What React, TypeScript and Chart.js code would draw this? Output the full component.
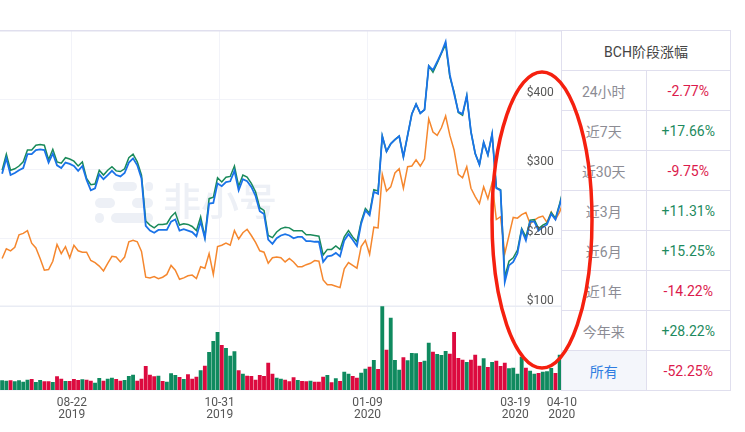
import { useEffect, useRef } from 'react';
import { Chart, registerables } from 'chart.js';
import type { Plugin } from 'chart.js';

Chart.register(...registerables);

const firstDate = '2019-07-20';
const stepDays = 2;
const tickDates = ['2019-08-22', '2019-10-31', '2020-01-09', '2020-03-19', '2020-04-10'];
const priceTicks = [100, 200, 300, 400];

const bchPrice = [
  294, 316, 292, 295, 299, 302, 322, 322, 328, 329, 328, 310, 323, 306, 302, 310, 308, 305, 298, 305,
  285, 270, 273, 293, 286, 292, 298, 292, 290, 295, 310, 316, 306, 287, 219, 212, 209, 213, 213, 213,
  225, 228, 212, 214, 212, 210, 204, 225, 201, 251, 252, 280, 276, 282, 283, 298, 270, 286, 283, 275,
  262, 240, 236, 199, 193, 201, 205, 207, 205, 201, 203, 203, 197, 197, 196, 196, 167, 175, 176, 180,
  175, 198, 207, 199, 190, 222, 241, 234, 268, 265, 348, 326, 337, 343, 348, 318, 349, 380, 394, 381,
  386, 449, 443, 455, 468, 484, 436, 409, 383, 380, 406, 354, 323, 307, 339, 321, 351, 273, 270, 138,
  162, 167, 179, 213, 198, 225, 225, 212, 217, 221, 236, 228, 248, 273,
];
const bchAverage = [
  299, 322, 299, 301, 305, 311, 328, 328, 335, 336, 335, 314, 329, 311, 309, 317, 315, 312, 305, 311,
  287, 278, 279, 299, 292, 299, 304, 298, 297, 301, 317, 322, 311, 292, 226, 220, 216, 221, 221, 222,
  232, 238, 220, 222, 221, 218, 212, 232, 203, 258, 260, 288, 282, 289, 290, 305, 276, 292, 289, 280,
  268, 245, 241, 205, 202, 210, 215, 217, 216, 212, 212, 212, 206, 206, 205, 204, 177, 185, 185, 190,
  185, 203, 212, 203, 196, 225, 244, 237, 271, 269, 348, 326, 337, 343, 348, 318, 349, 380, 394, 381,
  386, 449, 440, 453, 467, 480, 433, 412, 382, 378, 406, 354, 323, 307, 339, 321, 351, 274, 271, 145,
  168, 173, 184, 215, 203, 227, 228, 215, 220, 223, 238, 230, 251, 275,
];
const marketIndex = [
  172, 186, 183, 188, 206, 208, 212, 194, 187, 172, 155, 156, 168, 192, 179, 189, 173, 191, 183, 181,
  181, 169, 166, 161, 154, 165, 175, 174, 167, 174, 196, 198, 196, 182, 145, 144, 146, 143, 145, 149,
  162, 155, 142, 144, 147, 148, 143, 160, 158, 179, 149, 189, 191, 194, 191, 212, 200, 209, 214, 205,
  195, 183, 181, 165, 173, 174, 173, 167, 172, 167, 160, 160, 163, 165, 169, 168, 141, 134, 134, 132,
  130, 157, 166, 162, 158, 189, 198, 178, 217, 216, 293, 269, 275, 295, 301, 273, 304, 305, 314, 305,
  315, 373, 354, 349, 360, 377, 349, 328, 293, 288, 304, 273, 261, 251, 275, 258, 281, 228, 232, 179,
  205, 231, 230, 235, 238, 222, 227, 231, 233, 224, 239, 228, 239, 256,
];
const volume = [
  28, 27, 28, 25, 28, 24, 30, 32, 23, 29, 25, 25, 23, 40, 33, 26, 26, 32, 29, 31,
  30, 27, 21, 35, 27, 33, 36, 32, 27, 29, 41, 45, 27, 33, 71, 45, 40, 42, 26, 24,
  49, 44, 38, 32, 46, 33, 39, 58, 72, 113, 146, 173, 134, 125, 102, 115, 58, 48, 42, 41,
  30, 44, 41, 81, 48, 36, 33, 30, 25, 37, 29, 26, 25, 27, 24, 24, 39, 44, 22, 34,
  26, 54, 48, 41, 36, 51, 63, 69, 89, 62, 250, 120, 216, 89, 60, 97, 88, 110, 109, 83,
  87, 141, 114, 107, 104, 116, 108, 173, 95, 90, 83, 90, 105, 72, 94, 68, 83, 87, 71, 81,
  64, 66, 48, 99, 66, 57, 48, 50, 54, 55, 65, 50, 105, 110,
];
const volumeUp = [
  1, 1, 0, 1, 1, 1, 1, 0, 1, 1, 0, 0, 1, 0, 0, 1, 0, 0, 0, 1,
  0, 0, 1, 1, 0, 1, 1, 0, 0, 1, 1, 1, 0, 0, 0, 0, 0, 1, 0, 1,
  1, 1, 0, 1, 0, 0, 0, 1, 0, 1, 1, 1, 0, 1, 1, 1, 0, 1, 0, 0,
  0, 0, 0, 0, 0, 1, 1, 0, 0, 0, 1, 0, 0, 1, 0, 0, 0, 1, 0, 1,
  0, 1, 1, 0, 0, 1, 1, 0, 1, 0, 1, 0, 1, 1, 1, 0, 1, 1, 1, 0,
  1, 1, 0, 1, 1, 1, 0, 0, 0, 0, 1, 0, 0, 0, 1, 0, 1, 0, 0, 0,
  1, 1, 1, 1, 0, 1, 1, 0, 1, 1, 1, 0, 1, 1,
];

const rangeRows = [
  { label: '24小时', value: '-2.77%' },
  { label: '近7天', value: '+17.66%' },
  { label: '近30天', value: '-9.75%' },
  { label: '近3月', value: '+11.31%' },
  { label: '近6月', value: '+15.25%' },
  { label: '近1年', value: '-14.22%' },
  { label: '今年来', value: '+28.22%' },
  { label: '所有', value: '-52.25%' },
];

const UP = '#0f8a5f';
const DOWN = '#dc0a3f';
const GRID = '#f2f3f9';
const BORDER = '#e0dfee';
const FONT = 'Roboto, "Noto Sans CJK SC", sans-serif';

const toDay = (date: string) => Date.parse(date) / 86400000;
const sampleDays = bchPrice.map((_, i) => toDay(firstDate) + i * stepDays);
const points = (values: number[]) => values.map((y, i) => ({ x: sampleDays[i], y }));

// panel frame and the faint site watermark sit behind the series
const backdrop: Plugin = {
  id: 'backdrop',
  beforeDatasetsDraw(chart) {
    const { ctx, chartArea } = chart;
    ctx.save();
    ctx.fillStyle = '#edf0f6';
    const bars = [
      [113, 182, 24, 9], [145, 182, 8, 9],
      [95, 198, 20, 10], [132, 198, 21, 10],
      [95, 213, 9, 10], [111, 213, 42, 10],
    ];
    bars.forEach(([x, y, w, h]) => {
      ctx.beginPath();
      ctx.roundRect(x, y, w, h, h / 2);
      ctx.fill();
    });
    ctx.font = '500 38px "Noto Sans CJK SC"';
    ctx.textBaseline = 'middle';
    ctx.fillText('非小号', 163, 201);
    ctx.fillStyle = BORDER;
    ctx.fillRect(chartArea.left, 30, chartArea.width, 1.5);
    ctx.fillStyle = '#e9ecf4';
    ctx.fillRect(chartArea.left, 305.5, chartArea.width, 1.5);
    ctx.fillRect(chartArea.left, 389.5, chartArea.width, 1);
    ctx.restore();
  },
};

export default function App() {
  const canvasRef = useRef<HTMLCanvasElement>(null);

  useEffect(() => {
    if (!canvasRef.current) return;
    const chart = new Chart(canvasRef.current, {
      type: 'line',
      data: {
        datasets: [
          { label: 'BCH', data: points(bchPrice), borderColor: '#1a73e8', borderWidth: 1.8, order: 0, yAxisID: 'price' },
          { label: '均价', data: points(bchAverage), borderColor: '#1a8a5a', borderWidth: 1.5, order: 1, yAxisID: 'price' },
          { label: '指数', data: points(marketIndex), borderColor: '#f5872e', borderWidth: 1.5, order: 2, yAxisID: 'price' },
          {
            type: 'bar',
            label: '成交量',
            data: points(volume),
            backgroundColor: volumeUp.map((up) => (up ? UP : DOWN)),
            barThickness: 3.2,
            order: 3,
            yAxisID: 'volume',
          },
        ],
      },
      options: {
        responsive: false,
        animation: false,
        layout: { padding: { left: 0, right: 183.2, top: 30.5, bottom: 0 } },
        elements: { point: { radius: 0 }, line: { tension: 0 } },
        plugins: { legend: { display: false }, tooltip: { enabled: false } },
        scales: {
          x: {
            type: 'linear',
            min: toDay(firstDate) - 1,
            max: toDay('2020-04-10'),
            offset: false,
            border: { display: false },
            grid: { color: GRID, offset: false, drawTicks: false },
            afterBuildTicks: (axis) => {
              axis.ticks = tickDates.map((date) => ({ value: toDay(date) }));
            },
            afterFit: (axis) => {
              axis.height = 42;
            },
            ticks: {
              autoSkip: false,
              maxRotation: 0,
              padding: 7,
              color: '#555',
              font: { family: FONT, size: 12, lineHeight: 1 },
              callback: (value) => {
                const date = tickDates.find((d) => toDay(d) === value) ?? '';
                return [date.slice(5), date.slice(0, 4)];
              },
            },
          },
          price: {
            type: 'linear',
            position: 'right',
            min: -17.3,
            max: 500,
            border: { display: false },
            grid: {
              drawTicks: false,
              color: (ctx) => (ctx.tick.value === 100 ? 'transparent' : GRID),
            },
            afterBuildTicks: (axis) => {
              axis.ticks = priceTicks.map((value) => ({ value }));
            },
            afterFit: (axis) => {
              axis.width = 0;
            },
            ticks: {
              mirror: true,
              autoSkip: false,
              padding: -8,
              labelOffset: -7,
              z: 1,
              color: '#555',
              font: { family: FONT, size: 12 },
              callback: (value) => `$${value}`,
            },
          },
          volume: {
            type: 'linear',
            display: false,
            min: 0,
            max: 1078,
          },
        },
      },
      plugins: [backdrop],
    });
    return () => chart.destroy();
  }, []);

  const cell = { border: `1px solid ${BORDER}`, padding: 0, textAlign: 'center' as const };

  return (
    <div style={{ position: 'absolute', left: 0, top: 0, width: 745, height: 432, overflow: 'hidden', background: '#fff' }}>
      <canvas ref={canvasRef} width={745} height={432} style={{ display: 'block' }} />
      <table
        style={{
          position: 'absolute',
          left: 561,
          top: 30,
          width: 170,
          borderCollapse: 'collapse',
          tableLayout: 'fixed',
          background: '#fff',
          fontFamily: FONT,
          fontSize: 14,
        }}
      >
        <tbody>
          <tr style={{ height: 40 }}>
            <td colSpan={2} style={{ ...cell, color: '#444', fontSize: 14 }}>BCH阶段涨幅</td>
          </tr>
          {rangeRows.map((row, i) => {
            const last = i === rangeRows.length - 1;
            return (
              <tr key={row.label} style={{ height: 40 }}>
                <td
                  style={{
                    ...cell,
                    width: 84,
                    color: last ? '#2f7de1' : '#8c8c94',
                    background: last ? '#f4f6fb' : '#fff',
                  }}
                >
                  {row.label}
                </td>
                <td style={{ ...cell, color: row.value.startsWith('+') ? '#1e8a5e' : '#dc1a4c' }}>{row.value}</td>
              </tr>
            );
          })}
        </tbody>
      </table>
      <svg width={745} height={432} style={{ position: 'absolute', left: 0, top: 0, pointerEvents: 'none' }}>
        <ellipse cx={542} cy={220} rx={50} ry={148} fill="none" stroke="#f5200f" strokeWidth={3.5} />
      </svg>
    </div>
  );
}
